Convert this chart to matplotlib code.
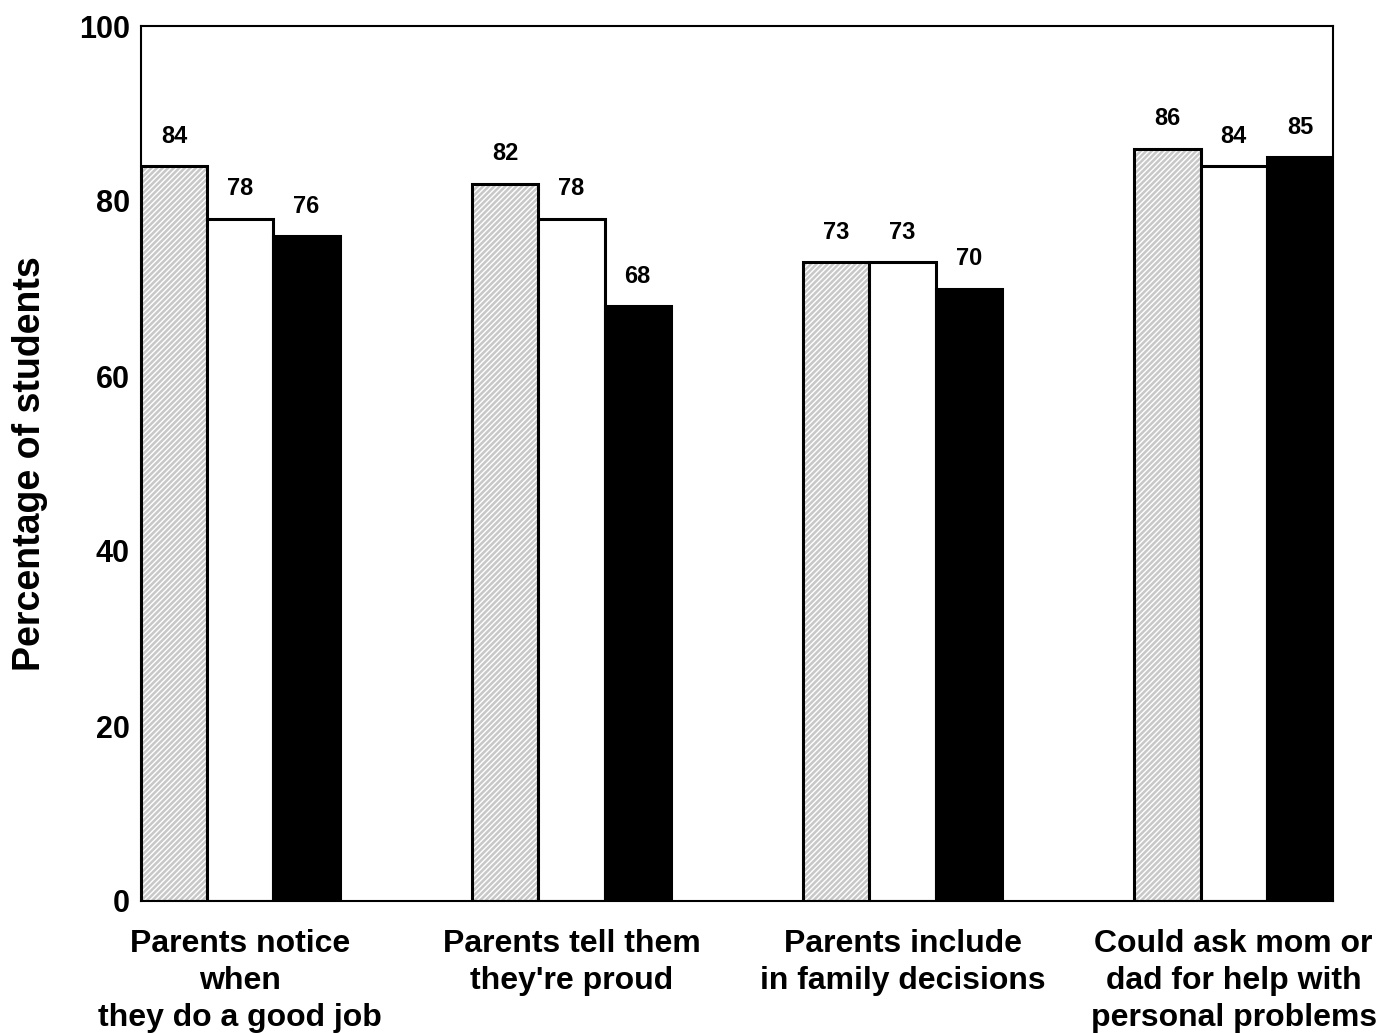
import matplotlib
matplotlib.use("Agg")
import matplotlib.pyplot as plt
import numpy as np

plt.rcParams['font.family'] = ['Liberation Sans', 'DejaVu Sans']
plt.rcParams['font.weight'] = 'bold'
plt.rcParams['hatch.linewidth'] = 1.0

# Survey data
categories = ["Parents notice\nwhen\nthey do a good job",
              "Parents tell them\nthey're proud",
              "Parents include\nin family decisions",
              "Could ask mom or\ndad for help with\npersonal problems"]
series_a = [84, 82, 73, 86]
series_b = [78, 78, 73, 84]
series_c = [76, 68, 70, 85]

fig = plt.figure(figsize=(13.98, 10.33), dpi=100)
ax = fig.add_axes([141/1398, 132/1033, 1192/1398, 875/1033])

x = np.arange(len(categories))
w = 0.2

# gray bars: white hatch drawn first, black outline on top
ax.bar(x - w, series_a, w, color='#c8c8c8', edgecolor='white',
       linewidth=0, hatch='//////')
bars_a = ax.bar(x - w, series_a, w, color='none', edgecolor='black', linewidth=2.2)
bars_b = ax.bar(x, series_b, w, color='white', edgecolor='black', linewidth=2.2)
bars_c = ax.bar(x + w, series_c, w, color='black', edgecolor='black', linewidth=2.2)

for bars, vals in [(bars_a, series_a), (bars_b, series_b), (bars_c, series_c)]:
    for b, v in zip(bars, vals):
        ax.text(b.get_x() + b.get_width() / 2, v + 3.4, str(v),
                ha='center', va='center', fontsize=17, fontweight='bold')

ax.set_xlim(-0.3, 3.3)
ax.set_ylim(0, 100)
ax.set_yticks([0, 20, 40, 60, 80, 100])
ax.set_xticks(x)
ax.set_xticklabels(categories, fontsize=23, fontweight='bold', linespacing=1.3)
ax.tick_params(axis='y', length=0, pad=8, labelsize=22)
ax.tick_params(axis='x', length=0, pad=20)
ax.set_ylabel("Percentage of students", fontsize=27, fontweight='bold', labelpad=22)

for s in ax.spines.values():
    s.set_linewidth(1.5)

fig.savefig("out.png", dpi=100)
